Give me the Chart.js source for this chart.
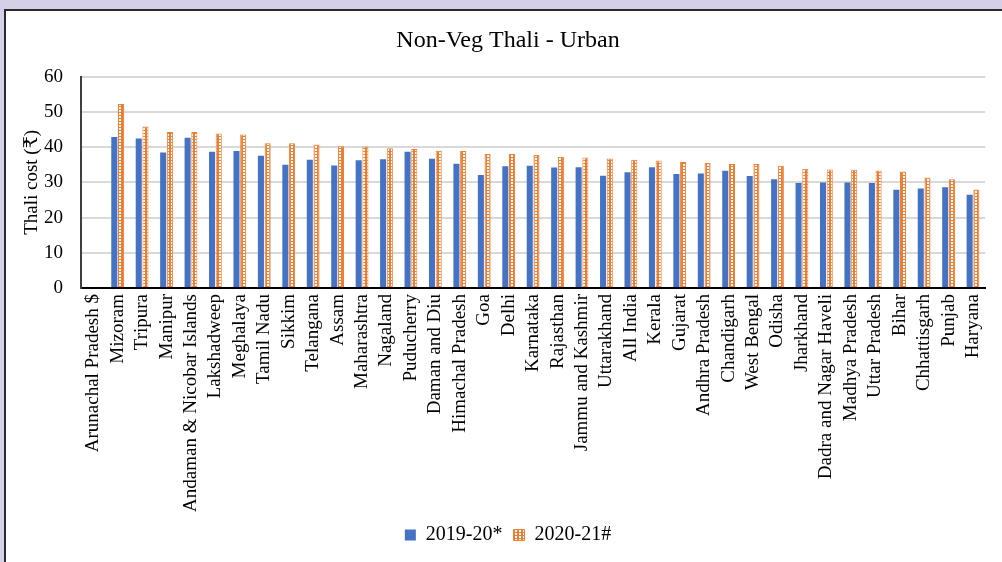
<!DOCTYPE html>
<html>
<head>
<meta charset="utf-8">
<script src="https://cdn.jsdelivr.net/npm/chart.js@4.4.0/dist/chart.umd.min.js"></script>
<style>
  html, body { margin: 0; padding: 0; background: #d5d0e8; overflow: hidden; }
  #moldura {
    position: absolute; left: 4px; top: 9px; width: 1000px; height: 560px;
    border-top: 2px solid #2b2b2b; border-left: 2px solid #2b2b2b; background: #fff;
  }
  #caixa { position: absolute; left: 0; top: 0; width: 996px; height: 551px; }
</style>
</head>
<body>
<div id="moldura"><div id="caixa"><canvas id="myChart"></canvas></div></div>
<script>
var estados = ['Arunachal Pradesh $', 'Mizoram', 'Tripura', 'Manipur', 'Andaman & Nicobar Islands', 'Lakshadweep',
    'Meghalaya', 'Tamil Nadu', 'Sikkim', 'Telangana', 'Assam', 'Maharashtra', 'Nagaland', 'Puducherry',
    'Daman and Diu', 'Himachal Pradesh', 'Goa', 'Delhi', 'Karnataka', 'Rajasthan', 'Jammu and Kashmir',
    'Uttarakhand', 'All India', 'Kerala', 'Gujarat', 'Andhra Pradesh', 'Chandigarh', 'West Bengal', 'Odisha',
    'Jharkhand', 'Dadra and Nagar Haveli', 'Madhya Pradesh', 'Uttar Pradesh', 'Bihar', 'Chhattisgarh', 'Punjab', 'Haryana'];
var custo_2019 = [null, 42.9, 42.5, 38.5, 42.7, 38.7, 38.9, 37.6, 35.0, 36.4, 34.8, 36.3, 36.6, 38.7, 36.7, 35.3,
    32.1, 34.6, 34.7, 34.2, 34.3, 31.9, 32.9, 34.3, 32.4, 32.5, 33.3, 31.8, 30.9, 29.8, 30.0, 30.0, 29.8,
    27.9, 28.3, 28.6, 26.5];
var custo_2020 = [null, 52.3, 45.9, 44.3, 44.3, 43.9, 43.6, 41.1, 41.1, 40.8, 40.3, 40.2, 39.7, 39.5, 39.0, 38.9,
    38.1, 38.1, 37.8, 37.3, 37.1, 36.8, 36.4, 36.2, 35.8, 35.5, 35.2, 35.2, 34.7, 33.9, 33.7, 33.6, 33.4,
    33.1, 31.4, 30.9, 28.0];
var ticks_y = [0, 10, 20, 30, 40, 50, 60];

var fonte = "'Liberation Serif', 'Times New Roman', 'DejaVu Serif', serif";

// padrao pontilhado das barras laranja
function criarPadrao() {
    let c = document.createElement('canvas');
    c.width = 4;
    c.height = 3;
    let g = c.getContext('2d');
    g.fillStyle = '#ed7d31';
    g.fillRect(0, 0, 4, 3);
    g.fillStyle = '#ffffff';
    g.fillRect(1, 0, 2, 2);
    return g.createPattern(c, 'repeat');
}

var ctx = document.getElementById('myChart').getContext('2d');
var grafico = new Chart(ctx, {
    type: 'bar',
    data: {
        labels: estados,
        datasets: [{
            label: '2019-20*',
            data: custo_2019,
            backgroundColor: '#4472c4',
            borderWidth: 0,
            categoryPercentage: 0.55,
            barPercentage: 0.9
        }, {
            label: '2020-21#',
            data: custo_2020,
            backgroundColor: criarPadrao(),
            borderColor: '#ed7d31',
            borderWidth: 1,
            categoryPercentage: 0.55,
            barPercentage: 0.9
        }]
    },
    options: {
        responsive: true,
        maintainAspectRatio: false,
        animation: false,
        layout: {
            padding: { left: 22, right: 14, top: 0, bottom: 7 }
        },
        scales: {
            x: {
                grid: { display: false, drawTicks: false },
                border: { color: '#000', width: 2 },
                ticks: {
                    color: '#000',
                    font: { family: fonte, size: 19 },
                    maxRotation: 90,
                    minRotation: 90,
                    autoSkip: false,
                    padding: 6
                },
                afterFit: function (escala) { escala.height = 226; }
            },
            y: {
                min: 0,
                max: 60,
                afterBuildTicks: function (escala) {
                    escala.ticks = ticks_y.map(v => ({ value: v }));
                },
                grid: { color: '#d9d9d9', lineWidth: 2, drawTicks: false },
                border: { color: '#404040', width: 2 },
                ticks: {
                    color: '#000',
                    font: { family: fonte, size: 19 },
                    padding: 18
                },
                title: {
                    display: true,
                    text: 'Thali cost (₹)',
                    color: '#000',
                    font: { family: fonte, size: 19 },
                    padding: { top: -7, bottom: 0 }
                },
                afterFit: function (escala) { escala.width = 53; }
            }
        },
        plugins: {
            title: {
                display: true,
                text: 'Non-Veg Thali - Urban',
                color: '#000',
                font: { family: fonte, size: 24, weight: 'normal' },
                padding: { top: 15, bottom: 22 }
            },
            legend: {
                position: 'bottom',
                labels: {
                    color: '#000',
                    font: { family: fonte, size: 20 },
                    boxWidth: 11,
                    boxHeight: 11,
                    padding: 11
                }
            },
            tooltip: { enabled: false }
        }
    }
});
</script>
</body>
</html>
